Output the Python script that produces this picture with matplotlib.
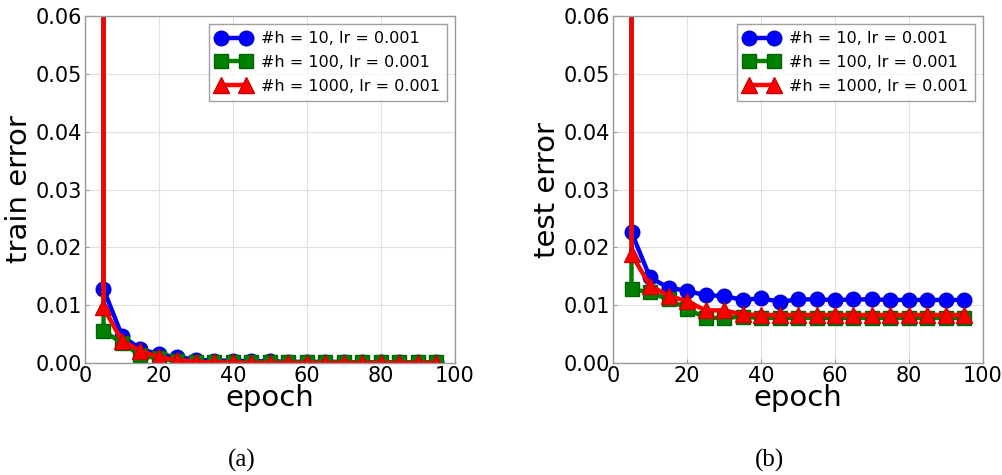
import matplotlib
matplotlib.use("Agg")
import matplotlib.pyplot as plt

epochs = [5, 5, 10, 15, 20, 25, 30, 35, 40, 45, 50, 55, 60, 65, 70, 75, 80, 85, 90, 95]

train_h10 = [0.5, 0.0128, 0.0047, 0.0024, 0.0015, 0.0010, 0.0006, 0.0004, 0.0004, 0.0003, 0.0003,
             0.0002, 0.0002, 0.0002, 0.0002, 0.0001, 0.0001, 0.0001, 0.0001, 0.0001]
train_h100 = [0.5, 0.0055, 0.0035, 0.0013, 0.0008, 0.0003, 0.0002, 0.0001, 0.0001, 0.0001, 0.0001,
              0.0001, 0.0001, 0.0001, 0.0001, 0.0001, 0.0001, 0.0001, 0.0001, 0.0001]
train_h1000 = [0.5, 0.0096, 0.0038, 0.0021, 0.0010, 0.0005, 0.0002, 0.0001, 0.0001, 0.0000, 0.0000,
               0.0000, 0.0000, 0.0000, 0.0000, 0.0000, 0.0000, 0.0000, 0.0000, 0.0000]

test_h10 = [0.5, 0.0226, 0.0148, 0.0130, 0.0125, 0.0117, 0.0116, 0.0109, 0.0112, 0.0106, 0.0110,
            0.0110, 0.0109, 0.0110, 0.0110, 0.0109, 0.0109, 0.0109, 0.0109, 0.0109]
test_h100 = [0.5, 0.0128, 0.0122, 0.0110, 0.0094, 0.0078, 0.0078, 0.0080, 0.0078, 0.0078, 0.0078,
             0.0078, 0.0078, 0.0078, 0.0078, 0.0078, 0.0078, 0.0078, 0.0078, 0.0078]
test_h1000 = [0.5, 0.0188, 0.0134, 0.0116, 0.0107, 0.0091, 0.0091, 0.0084, 0.0083, 0.0083, 0.0083,
              0.0083, 0.0083, 0.0083, 0.0083, 0.0083, 0.0083, 0.0083, 0.0083, 0.0083]

labels = ["#h = 10, lr = 0.001", "#h = 100, lr = 0.001", "#h = 1000, lr = 0.001"]
ylabels = ["train error", "test error"]
captions = ["(a)", "(b)"]

fig = plt.figure(figsize=(10.03, 4.75), dpi=100)
W, H = 1003, 475
ax_boxes = [(85, 16, 455, 363), (613, 16, 983, 363)]
cap_x = [242, 770]

styles = [dict(color="blue", marker="o", mec="#0000cc"),
          dict(color="green", marker="s", mec="#006400"),
          dict(color="red", marker="^", mec="#cc0000")]

for i, (data, ylab, cap) in enumerate(zip([(train_h10, train_h100, train_h1000),
                                            (test_h10, test_h100, test_h1000)],
                                           ylabels, captions)):
    x0, y0, x1, y1 = ax_boxes[i]
    ax = fig.add_axes([x0 / W, 1 - y1 / H, (x1 - x0) / W, (y1 - y0) / H])
    for ys, st, lab in zip(data, styles, labels):
        ax.plot(epochs, ys, color=st["color"], marker=st["marker"], mec=st["mec"],
                mfc=st["color"], lw=3.2, ms=10.5 if st["marker"] != "^" else 11,
                label=lab, clip_on=True)
    ax.set_xlim(0, 100)
    ax.set_ylim(0, 0.06)
    ax.set_xticks([0, 20, 40, 60, 80, 100])
    ax.set_yticks([0.0, 0.01, 0.02, 0.03, 0.04, 0.05, 0.06])
    ax.set_yticklabels(["0.00", "0.01", "0.02", "0.03", "0.04", "0.05", "0.06"])
    ax.grid(True, color="#e0e0e0", lw=0.8)
    ax.set_axisbelow(True)
    for sp in ax.spines.values():
        sp.set_color("#999999")
        sp.set_linewidth(1.0)
    ax.tick_params(labelsize=15, colors="#999999", labelcolor="black", length=3,
                   direction="in", pad=2)
    ax.set_xlabel("epoch", fontsize=21, labelpad=-1)
    ax.set_ylabel(ylab, fontsize=21, labelpad=2)
    leg = ax.legend(loc="upper right", fontsize=11.5, frameon=True, fancybox=False,
                    edgecolor="#888888", borderpad=0.45, labelspacing=0.55,
                    handlelength=2.2, handletextpad=0.6, borderaxespad=0.5,
                    numpoints=2)
    leg.get_frame().set_linewidth(1.0)
    fig.text(cap_x[i] / W, 1 - 460 / H, cap, ha="center", va="center",
             fontsize=18, family="Liberation Serif")

fig.savefig("out.png", dpi=100)
